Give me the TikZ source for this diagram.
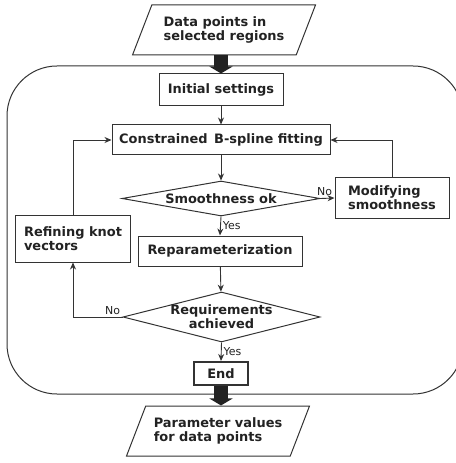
\documentclass[tikz,border=0pt]{standalone}
\usepackage{fontspec}
\setmainfont{DejaVu Sans}
\usetikzlibrary{shapes.geometric,arrows.meta}

\definecolor{inkgray}{HTML}{222222}
\definecolor{linegray}{HTML}{333333}

\begin{document}
\begin{tikzpicture}[x=1bp, y=-1bp, >={Stealth[length=7bp,width=6bp]},
  txt/.style={text=inkgray, font=\fontsize{13}{14}\selectfont\bfseries},
  box/.style={txt, draw=linegray, line width=1bp, inner sep=0pt},
  decision/.style={box, diamond, inner sep=0pt},
  io/.style={box, trapezium, trapezium left angle=54, trapezium right angle=126,
    trapezium stretches body, minimum width=183bp, minimum height=50bp},
  lab/.style={text=inkgray, font=\fontsize{11}{12}\selectfont, inner sep=2bp},
  flow/.style={draw=linegray, line width=0.9bp, ->},
  fat/.style={draw=inkgray, line width=14bp, -{Triangle[length=7bp,width=23bp]}}]
  \clip (0,0) rectangle (456,463);

  % Frame round the loop
  \draw[linegray, line width=1bp, rounded corners=50bp] (7,66) rectangle (463,394);

  % Input and output
  \node[io, align=left] (data) at (224,30) {Data points in\\selected regions};
  \node[io, align=left] (param) at (218,431) {Parameter values\\for data points};

  % Steps
  \node[box, minimum width=124bp, minimum height=32bp] (init) at (221,90) {Initial settings};
  \node[box, minimum width=218bp, minimum height=30bp] (fit) at (221,140) {Constrained\, B-spline fitting};
  \node[decision, minimum width=198bp, minimum height=35bp, aspect=5.6] (smooth) at (221,198.5) {Smoothness ok};
  \node[box, align=left, minimum width=114bp, minimum height=40bp] (modify) at (392,198) {Modifying\\smoothness};
  \node[box, align=left, minimum width=114bp, minimum height=46bp] (refine) at (73,239) {Refining knot\\vectors};
  \node[box, minimum width=164bp, minimum height=30bp] (repar) at (220,251) {Reparameterization};
  \node[decision, align=center, inner xsep=-8bp, minimum width=197bp, minimum height=50bp, aspect=3.9] (req) at (221.5,317) {Requirements\\achieved};
  \node[box, line width=2bp, minimum width=54bp, minimum height=23bp] (end) at (221,373.5) {End};

  % Thick arrows in and out
  \draw[fat] (init.north |- data.south) -- (init.north);
  \draw[fat] (end.south) -- (end.south |- param.north);

  % Flow
  \draw[flow] (init) -- (fit);
  \draw[flow] (fit) -- (smooth);
  \draw[flow] (smooth.east) -- (modify.west) node[pos=1, above left, lab] {No};
  \draw[flow] (modify.north) |- (fit.east);
  \draw[flow] (smooth.south) -- (repar.north) node[midway, right, lab] {Yes};
  \draw[flow] (repar) -- (req);
  \draw[flow] (req.west) -| (refine.south) node[pos=0.1, above, lab] {No};
  \draw[flow] (refine.north) |- (fit.west);
  \draw[flow] (req.south) -- (end.north) node[midway, right, lab] {Yes};
\end{tikzpicture}
\end{document}
